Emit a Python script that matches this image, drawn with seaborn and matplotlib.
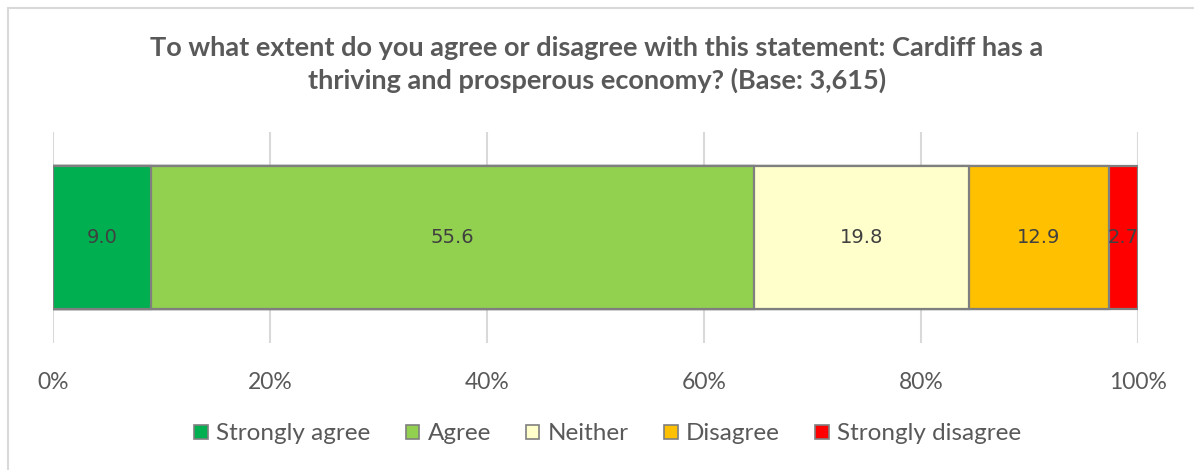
import matplotlib
matplotlib.use("Agg")
import matplotlib.pyplot as plt
from matplotlib.patches import Patch
from matplotlib.lines import Line2D
import seaborn as sns
import numpy as np

# Survey responses (percent of 3,615 respondents)
categories = ["Strongly agree", "Agree", "Neither", "Disagree", "Strongly disagree"]
values = [9.0, 55.6, 19.8, 12.9, 2.7]
colors = ["#00B050", "#92D050", "#FFFFCC", "#FFC000", "#FF0000"]
tick_values = [0, 20, 40, 60, 80, 100]
tick_labels = ["0%", "20%", "40%", "60%", "80%", "100%"]
title = ("To what extent do you agree or disagree with this statement: Cardiff has a\n"
         "thriving and prosperous economy? (Base: 3,615)")
row = "Cardiff"

sns.set_theme(style="white")
plt.rcParams["font.family"] = ["Lato", "DejaVu Sans"]

fig = plt.figure(figsize=(11.94, 4.70), dpi=100)
ax = fig.add_axes([53 / 1194, 1 - 343 / 470, (1138 - 53) / 1194, 211 / 470])

edge = "#7F7F7F"
cum = np.cumsum(values)
# Stacked bar: draw cumulative totals from the largest down so each
# segment covers the one beneath it.
for c, col in zip(cum[::-1], colors[::-1]):
    sns.barplot(x=[c], y=[row], orient="h", color=col, width=0.678,
                edgecolor=edge, linewidth=1.6, saturation=1, ax=ax, zorder=3)

starts = cum - np.array(values)
for s, v in zip(starts, values):
    ax.text(s + v / 2, 0, f"{v:.1f}", ha="center", va="center",
            fontsize=14, color="#404040", family=["DejaVu Sans"], zorder=5)

ax.set_xlim(0, 100)
ax.set_ylim(0.5, -0.5)
ax.set_xticks(tick_values)
ax.set_xticklabels(tick_labels)
ax.tick_params(axis="x", length=0, pad=21, labelsize=16.5, labelcolor="#595959")
ax.set_yticks([])
ax.set_ylabel("")
ax.set_xlabel("")
ax.grid(axis="x", color="#D9D9D9", linewidth=1.5, zorder=0)
ax.set_axisbelow(True)
for sp in ax.spines.values():
    sp.set_visible(False)

fig.text(0.5, 1 - 64.5 / 470, title, ha="center", va="center", fontsize=19.5,
         fontweight="bold", color="#595959", linespacing=1.4)

handles = [Patch(facecolor=col, edgecolor=edge, linewidth=1.2) for col in colors]
fig.legend(handles, categories, loc="center", bbox_to_anchor=(0.509, 1 - 434 / 470),
           ncol=5, frameon=False, fontsize=17.5, handlelength=0.55, handleheight=0.55,
           handletextpad=0.35, columnspacing=1.45, labelcolor="#595959")

# Chart frame edges
fig.add_artist(Line2D([8 / 1194, 8 / 1194], [0, 1 - 8 / 470], color="#D9D9D9",
                      linewidth=1.5, transform=fig.transFigure))
fig.add_artist(Line2D([8 / 1194, 1], [1 - 8 / 470, 1 - 8 / 470], color="#D9D9D9",
                      linewidth=1.5, transform=fig.transFigure))

fig.savefig("out.png", dpi=100, facecolor="white")
